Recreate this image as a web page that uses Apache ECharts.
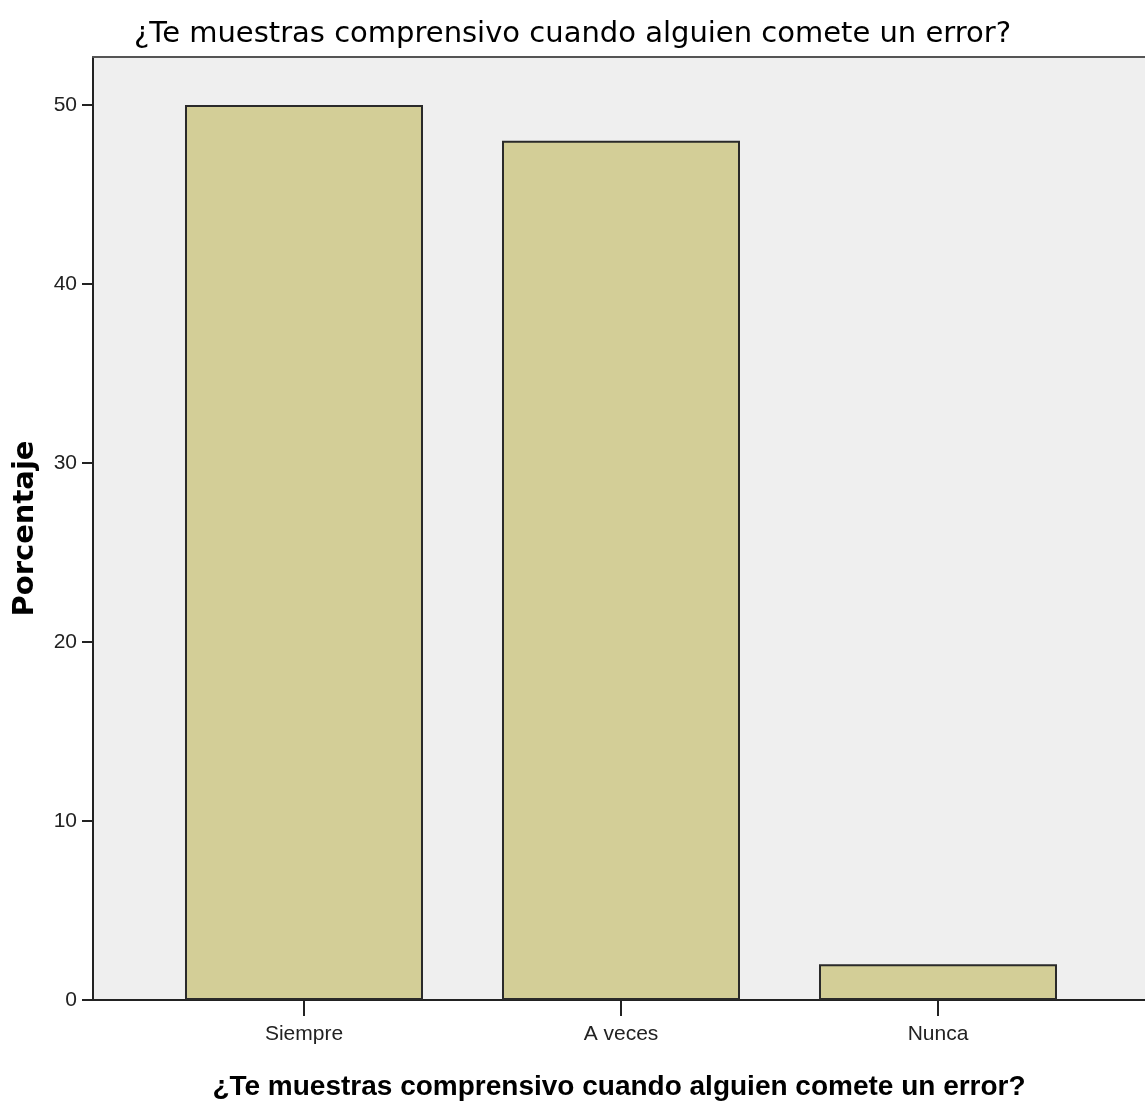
<!DOCTYPE html>
<html>
<head>
<meta charset="utf-8">
<script src="https://cdn.jsdelivr.net/npm/echarts@6/dist/echarts.min.js"></script>
<style>
html,body{margin:0;padding:0;background:#fff;}
#chart{width:1145px;height:1106px;}
</style>
</head>
<body>
<div id="chart"></div>
<script>
const titleText = '¿Te muestras comprensivo cuando alguien comete un error?';
const categories = ['Siempre', 'A veces', 'Nunca'];
const percentages = [50, 48, 2];
const yTicks = [0, 10, 20, 30, 40, 50];
const yAxisName = 'Porcentaje';

const sans = "'Liberation Sans', Arial, sans-serif";
const dejavu = "'DejaVu Sans', 'Liberation Sans', sans-serif";
const chart = echarts.init(document.getElementById('chart'));
const catIdx = categories.map((c, i) => i);
chart.setOption({
  backgroundColor: '#ffffff',
  animation: false,
  title: {
    text: titleText,
    left: 'center',
    top: 15,
    textStyle: { fontFamily: dejavu, fontSize: 29, fontWeight: 'normal', color: '#000' }
  },
  grid: {
    left: 93, right: 0, top: 57, bottom: 106,
    show: true, backgroundColor: '#efefef', borderWidth: 0,
    outerBoundsMode: 'none',
    containLabel: false
  },
  xAxis: [{
    type: 'value',
    min: -0.6656, max: 2.653,
    position: 'bottom',
    name: titleText,
    nameLocation: 'middle',
    nameGap: 73,
    nameTextStyle: { fontFamily: sans, fontSize: 28, fontWeight: 'bold', color: '#000' },
    axisLine: { show: true, onZero: false, lineStyle: { color: '#222', width: 2 } },
    axisTick: { show: true, length: 16, lineStyle: { color: '#222', width: 2 }, customValues: catIdx },
    axisLabel: { show: true, margin: 24, fontFamily: sans, fontSize: 21, color: '#222',
      customValues: catIdx, formatter: v => categories[Math.round(v)] },
    splitLine: { show: false }
  }, {
    type: 'value',
    min: -0.6656, max: 2.653,
    position: 'top',
    axisLine: { show: true, onZero: false, lineStyle: { color: '#555', width: 2 } },
    axisTick: { show: false },
    axisLabel: { show: false },
    splitLine: { show: false }
  }],
  yAxis: {
    type: 'value',
    min: 0, max: 52.68,
    name: yAxisName,
    nameLocation: 'middle',
    nameRotate: 90,
    nameGap: 53,
    nameTextStyle: { fontFamily: dejavu, fontSize: 29, fontWeight: 'bold', color: '#000' },
    axisLine: { show: true, onZero: false, lineStyle: { color: '#222', width: 2 } },
    axisTick: { show: true, length: 11, lineStyle: { color: '#222', width: 2 }, customValues: yTicks },
    axisLabel: { show: true, margin: 16, fontFamily: sans, fontSize: 21, color: '#222', customValues: yTicks },
    splitLine: { show: false }
  },
  series: [{
    type: 'bar',
    xAxisIndex: 0,
    data: percentages.map((v, i) => [i, v]),
    barWidth: 238,
    itemStyle: { color: '#d3ce97', borderColor: '#2a2a2a', borderWidth: 2 }
  }]
});
</script>
</body>
</html>
